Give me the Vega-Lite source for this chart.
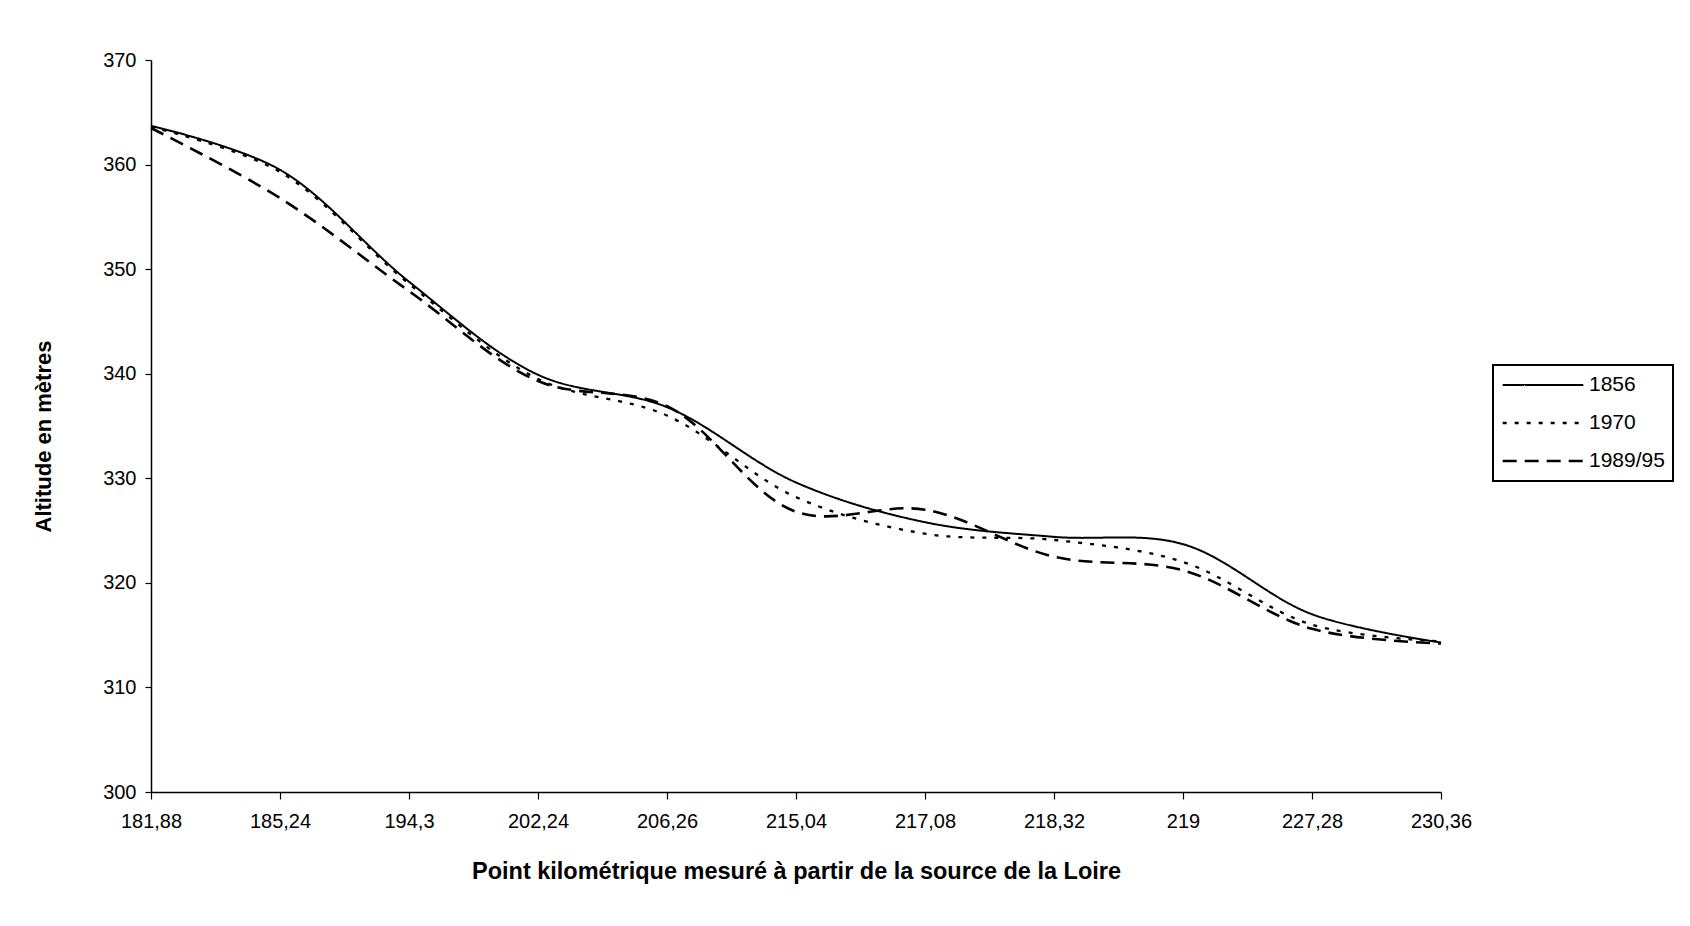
{
  "$schema": "https://vega.github.io/schema/vega-lite/v6.json",
  "autosize": "none",
  "width": 1290,
  "height": 732,
  "padding": {"left": 151, "top": 60, "right": 249, "bottom": 134},
  "background": "white",
  "config": {
    "font": "Liberation Sans",
    "view": {"stroke": null},
    "axis": {
      "grid": false,
      "domainColor": "black",
      "domainWidth": 1.5,
      "tickColor": "black",
      "tickWidth": 1.2,
      "labelColor": "black",
      "titleColor": "black",
      "labelFont": "Liberation Sans",
      "titleFont": "Liberation Sans",
      "labelFontSize": 20,
      "titleFontSize": 22,
      "titleFontWeight": "bold"
    },
    "legend": {
      "labelFont": "Liberation Sans",
      "labelFontSize": 21,
      "labelColor": "black",
      "strokeWidth": 2
    }
  },
  "data": {
    "values": [
      {"km": "181,88", "serie": "1856", "alt": 363.7},
      {"km": "185,24", "serie": "1856", "alt": 359.5},
      {"km": "194,3", "serie": "1856", "alt": 348.8},
      {"km": "202,24", "serie": "1856", "alt": 339.9},
      {"km": "206,26", "serie": "1856", "alt": 336.8},
      {"km": "215,04", "serie": "1856", "alt": 329.6},
      {"km": "217,08", "serie": "1856", "alt": 325.8},
      {"km": "218,32", "serie": "1856", "alt": 324.4},
      {"km": "219", "serie": "1856", "alt": 323.7},
      {"km": "227,28", "serie": "1856", "alt": 317.0},
      {"km": "230,36", "serie": "1856", "alt": 314.3},
      {"km": "181,88", "serie": "1970", "alt": 363.6},
      {"km": "185,24", "serie": "1970", "alt": 359.3},
      {"km": "194,3", "serie": "1970", "alt": 348.6},
      {"km": "202,24", "serie": "1970", "alt": 339.5},
      {"km": "206,26", "serie": "1970", "alt": 336.0},
      {"km": "215,04", "serie": "1970", "alt": 328.2},
      {"km": "217,08", "serie": "1970", "alt": 324.7},
      {"km": "218,32", "serie": "1970", "alt": 324.1},
      {"km": "219", "serie": "1970", "alt": 322.0},
      {"km": "227,28", "serie": "1970", "alt": 316.0},
      {"km": "230,36", "serie": "1970", "alt": 314.4},
      {"km": "181,88", "serie": "1989/95", "alt": 363.5},
      {"km": "185,24", "serie": "1989/95", "alt": 356.8},
      {"km": "194,3", "serie": "1989/95", "alt": 347.9},
      {"km": "202,24", "serie": "1989/95", "alt": 339.3},
      {"km": "206,26", "serie": "1989/95", "alt": 336.9},
      {"km": "215,04", "serie": "1989/95", "alt": 326.8},
      {"km": "217,08", "serie": "1989/95", "alt": 327.0},
      {"km": "218,32", "serie": "1989/95", "alt": 322.5},
      {"km": "219", "serie": "1989/95", "alt": 321.2},
      {"km": "227,28", "serie": "1989/95", "alt": 315.6},
      {"km": "230,36", "serie": "1989/95", "alt": 314.2}
    ]
  },
  "mark": {"type": "line", "interpolate": "catmull-rom", "color": "black"},
  "encoding": {
    "x": {
      "field": "km",
      "type": "ordinal",
      "sort": ["181,88", "185,24", "194,3", "202,24", "206,26", "215,04", "217,08", "218,32", "219", "227,28", "230,36"],
      "scale": {"type": "point", "padding": 0},
      "axis": {
        "title": "Point kilométrique mesuré à partir de la source de la Loire",
        "labelAngle": 0,
        "tickSize": 7,
        "labelPadding": 12,
        "titlePadding": 28,
        "titleFontSize": 23.5
      }
    },
    "y": {
      "field": "alt",
      "type": "quantitative",
      "scale": {"domain": [300, 370], "nice": false, "zero": false},
      "axis": {
        "title": "Altitude en mètres",
        "values": [300, 310, 320, 330, 340, 350, 360, 370],
        "tickSize": 6,
        "labelPadding": 9,
        "titlePadding": 47,
        "titleY": 376
      }
    },
    "strokeDash": {
      "field": "serie",
      "type": "nominal",
      "scale": {"domain": ["1856", "1970", "1989/95"], "range": [[1, 0], [4, 8], [14, 8]]},
      "legend": {
        "title": null,
        "orient": "none",
        "legendX": 1342,
        "legendY": 305,
        "symbolType": "stroke",
        "symbolSize": 6500,
        "symbolStrokeWidth": 2.2,
        "symbolStrokeColor": "black",
        "strokeColor": "black",
        "fillColor": "white",
        "padding": 8,
        "clipHeight": 24,
        "rowPadding": 14,
        "labelOffset": 4
      }
    },
    "strokeWidth": {
      "field": "serie",
      "type": "nominal",
      "scale": {"domain": ["1856", "1970", "1989/95"], "range": [2, 2.6, 3.4]},
      "legend": null
    }
  }
}
